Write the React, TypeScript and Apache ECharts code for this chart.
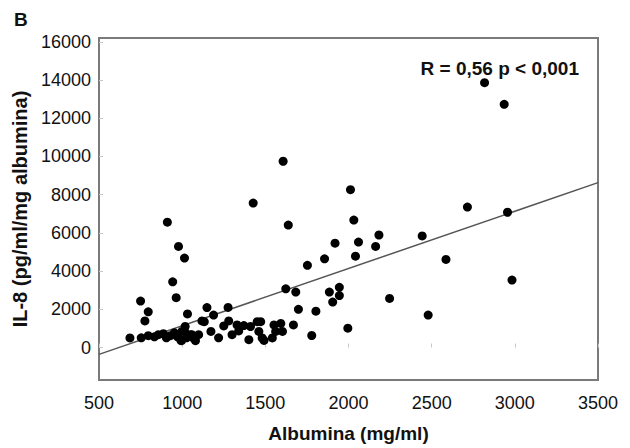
import React, { useEffect, useRef } from "react";
import * as echarts from "echarts";

// Albumina (mg/ml) values of each patient
const albumina: number[] = [
  911, 978, 1014, 943, 964, 750, 796, 776, 1032, 1149, 1276, 1427, 686, 1173, 1133, 1189, 1300, 1401, 1492, 992, 1068,
  1119, 1018, 998, 1058, 1280, 1330, 1371, 1411, 1451, 1461, 1481,
  1623, 1683, 1885, 1945, 1945, 1905, 1699, 1804, 1472, 1552, 1593, 1562, 1603, 1542, 1669, 1779, 1996,
  1607, 1638, 2012, 2032, 1919, 2060, 2183, 2163, 2042, 1856, 1753, 2443, 2247, 2479, 2586, 2818, 2936, 2715, 2956, 2983,
  754, 796, 833, 857, 887, 905, 929, 953, 972, 996, 1014, 1026, 1050, 1068, 1080, 1099, 1219, 1340, 1250,
];
// IL-8 (pg/ml/mg albumina) values of each patient
const il8: number[] = [
  6560, 5290, 4680, 3440, 2610, 2430, 1870, 1390, 1760, 2090, 2100, 7560, 500, 840, 1350, 1700, 670, 410, 370, 380, 500,
  1390, 1100, 840, 670, 1390, 1180, 1150, 1100, 1350, 840, 500,
  3070, 2900, 2900, 3150, 2720, 2380, 2000, 1900, 1350, 1180, 1260, 840, 840, 500, 1180, 630, 1010,
  9750, 6410, 8260, 6670, 5460, 5520, 5890, 5290, 4780, 4640, 4300, 5840, 2570, 1700, 4610, 13860, 12730, 7350, 7080, 3530,
  510, 620, 560, 670, 720, 510, 620, 770, 560, 360, 870, 510, 670, 510, 360, 670, 510, 870, 1130,
];
// regression line end points
const regressionX: number[] = [500, 3500];
const regressionY: number[] = [-360, 8630];
const yTickLabels: number[] = [0, 2000, 4000, 6000, 8000, 10000, 12000, 14000, 16000];
const xTickLabels: number[] = [500, 1000, 1500, 2000, 2500, 3000, 3500];

const FONT = "'Liberation Sans', Arial, Helvetica, sans-serif";

export default function App() {
  const ref = useRef<HTMLDivElement>(null);
  useEffect(() => {
    if (!ref.current) return;
    const chart = echarts.init(ref.current, null, { renderer: "svg" });
    const points = albumina.map((x, i) => [x, il8[i]]);
    const line = regressionX.map((x, i) => [x, regressionY[i]]);
    const plain = (v: number) => String(v);
    chart.setOption({
      animation: false,
      backgroundColor: "#ffffff",
      textStyle: { fontFamily: FONT },
      title: {
        text: "R = 0,56 p < 0,001",
        right: 46,
        top: 54,
        textStyle: { fontFamily: FONT, fontSize: 19, fontWeight: "bold", color: "#111" },
      },
      graphic: [
        {
          type: "text",
          left: 14,
          top: 10,
          style: { text: "B", font: `bold 19px ${FONT}`, fill: "#111" },
        },
      ],
      grid: {
        left: 99,
        right: 32,
        top: 38,
        bottom: 62,
        show: true,
        borderColor: "#7a7a7a",
        borderWidth: 2,
      },
      xAxis: {
        type: "value",
        min: 500,
        max: 3500,
        interval: 500,
        name: "Albumina (mg/ml)",
        nameLocation: "middle",
        nameGap: 44,
        nameTextStyle: { fontFamily: FONT, fontSize: 19, fontWeight: "bold", color: "#111" },
        axisLine: { show: false },
        axisTick: { show: true, inside: true, length: 4, lineStyle: { color: "#c8c8c8" }, customValues: xTickLabels },
        axisLabel: { fontFamily: FONT, fontSize: 18, color: "#111", margin: 14, customValues: xTickLabels, formatter: plain },
        splitLine: { show: false },
      },
      yAxis: {
        type: "value",
        min: -1700,
        max: 16200,
        name: "IL-8 (pg/ml/mg albumina)",
        nameLocation: "middle",
        nameGap: 61,
        nameTextStyle: { fontFamily: FONT, fontSize: 20, fontWeight: "bold", color: "#111" },
        axisLine: { show: false },
        axisTick: { show: true, inside: true, length: 4, lineStyle: { color: "#c8c8c8" }, customValues: yTickLabels },
        axisLabel: { fontFamily: FONT, fontSize: 18, color: "#111", margin: 8, customValues: yTickLabels, formatter: plain },
        splitLine: { show: false },
      },
      series: [
        {
          type: "line",
          data: line,
          symbol: "none",
          lineStyle: { color: "#555", width: 1.5 },
          z: 1,
        },
        {
          type: "scatter",
          data: points,
          symbol: "circle",
          symbolSize: 9,
          itemStyle: { color: "#000", opacity: 1 },
          z: 2,
        },
      ],
    });
    return () => chart.dispose();
  }, []);
  return (
    <div
      ref={ref}
      style={{ position: "absolute", left: 0, top: 0, width: 630, height: 448 }}
    />
  );
}
